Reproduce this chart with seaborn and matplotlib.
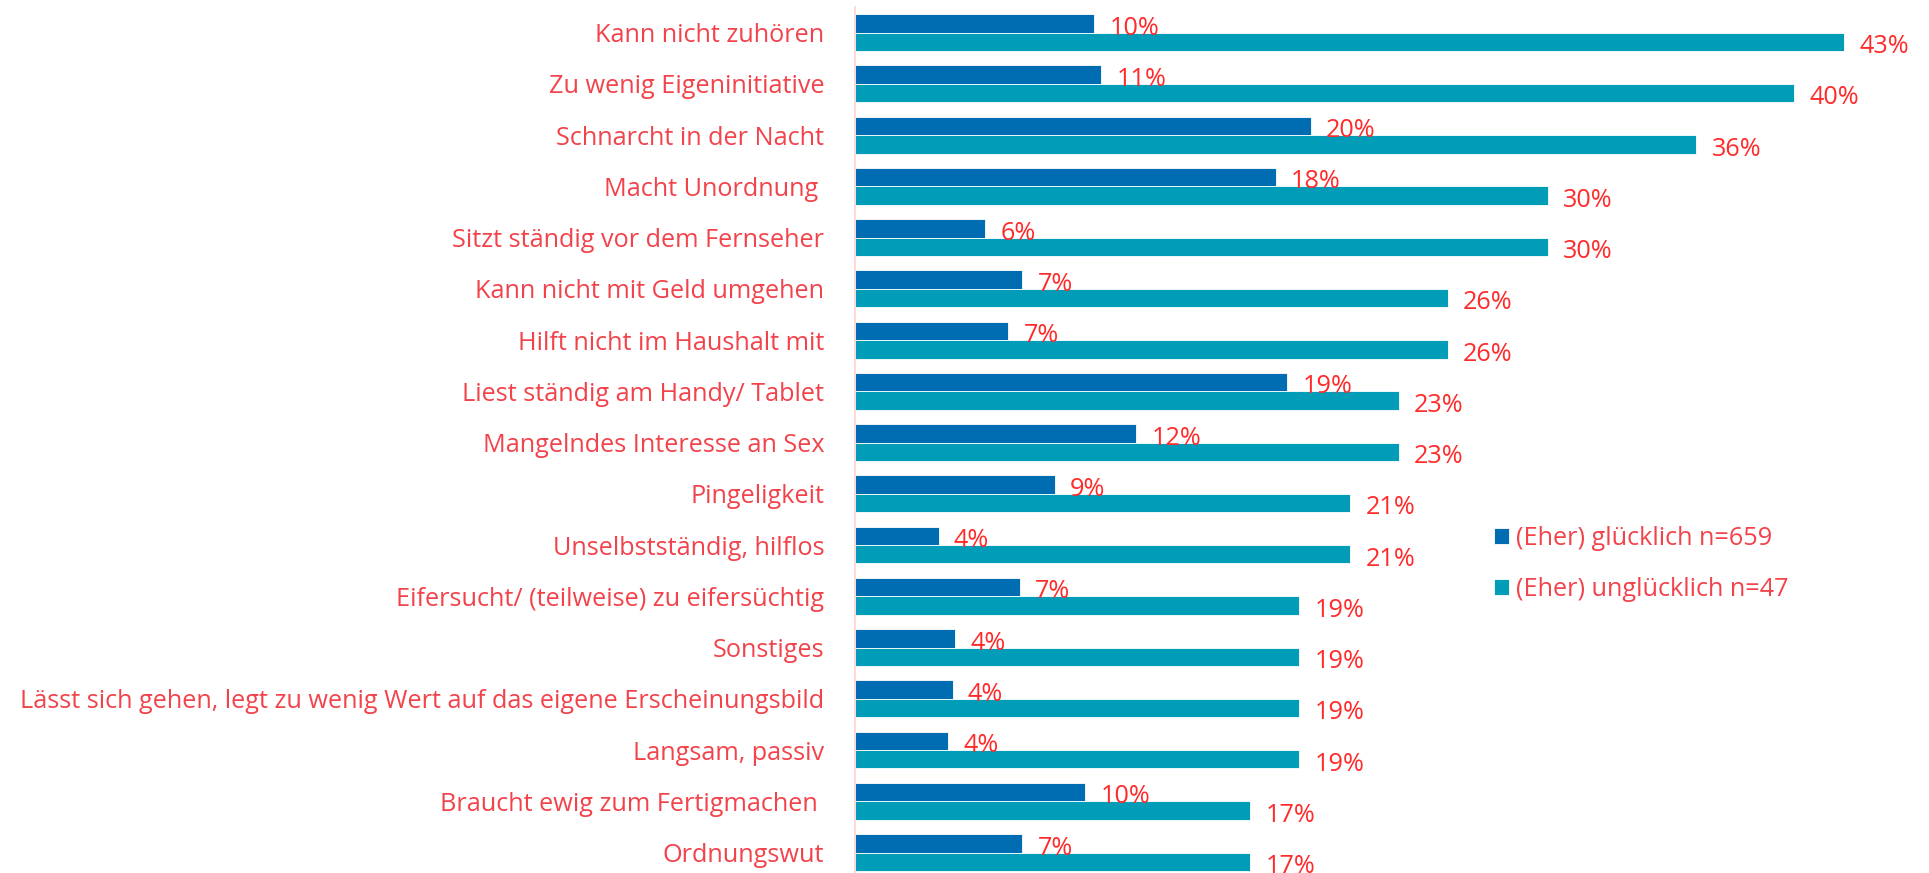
import matplotlib
matplotlib.use("Agg")
import matplotlib.pyplot as plt
import seaborn as sns
import pandas as pd

categories = [
    "Kann nicht zuhören",
    "Zu wenig Eigeninitiative",
    "Schnarcht in der Nacht",
    "Macht Unordnung ",
    "Sitzt ständig vor dem Fernseher",
    "Kann nicht mit Geld umgehen",
    "Hilft nicht im Haushalt mit",
    "Liest ständig am Handy/ Tablet",
    "Mangelndes Interesse an Sex",
    "Pingeligkeit",
    "Unselbstständig, hilflos",
    "Eifersucht/ (teilweise) zu eifersüchtig",
    "Sonstiges",
    "Lässt sich gehen, legt zu wenig Wert auf das eigene Erscheinungsbild",
    "Langsam, passiv",
    "Braucht ewig zum Fertigmachen ",
    "Ordnungswut",
]
gluecklich = [10.3, 10.6, 19.6, 18.1, 5.6, 7.2, 6.6, 18.6, 12.1, 8.6, 3.6, 7.1, 4.3, 4.2, 4.0, 9.9, 7.2]
ungluecklich = [42.55, 40.4, 36.2, 29.8, 29.8, 25.5, 25.5, 23.4, 23.4, 21.3, 21.3, 19.1, 19.1, 19.1, 19.1, 17.0, 17.0]
series_names = ["(Eher) glücklich n=659", "(Eher) unglücklich n=47"]

df = pd.DataFrame({
    "Kategorie": categories * 2,
    "Wert": gluecklich + ungluecklich,
    "Gruppe": [series_names[0]] * len(categories) + [series_names[1]] * len(categories),
})

sns.set_style("white")
plt.rcParams["font.family"] = ["Open Sans", "DejaVu Sans"]

label_red = "#F2434B"
value_red = "#FF2B2B"
colors = ["#006DB3", "#009CB8"]
fs = 18.2

fig = plt.figure(figsize=(19.29, 8.73), dpi=100)
ax = fig.add_axes([855 / 1929, 0.0, 0.9855 - 855 / 1929, 0.992])

sns.barplot(data=df, x="Wert", y="Kategorie", hue="Gruppe", orient="h",
            palette=colors, saturation=1, width=0.72, gap=0,
            edgecolor="white", linewidth=0.6,
            errorbar=None, ax=ax, legend=True)

ax.set_xlim(0, 45)
ax.set_ylim(16.4, -0.5)
ax.set_xlabel("")
ax.set_ylabel("")
ax.set_xticks([])
ax.tick_params(axis="y", length=0, pad=22, labelsize=fs, labelcolor=label_red)

for s in ["top", "right", "bottom"]:
    ax.spines[s].set_visible(False)
ax.spines["left"].set_color("#FFD3D3")
ax.spines["left"].set_linewidth(1.2)

for cont in ax.containers:
    labels = [f"{b.get_width():.0f}%" for b in cont]
    texts = ax.bar_label(cont, labels=labels, padding=11, fontsize=fs, color=value_red)
    for t in texts:
        t.set_va("center")
        x0, y0 = t.xyann
        t.xyann = (x0, y0 - 3.5)

handles, lbls = ax.get_legend_handles_labels()
ax.legend(handles, lbls, loc="center left", bbox_to_anchor=(1471 / 1929, 1 - 564 / 873),
          bbox_transform=fig.transFigure, frameon=False, fontsize=fs,
          labelcolor=label_red, handlelength=0.6, handleheight=0.6,
          handletextpad=0.3, labelspacing=1.05)

fig.savefig("out.png", dpi=100)
